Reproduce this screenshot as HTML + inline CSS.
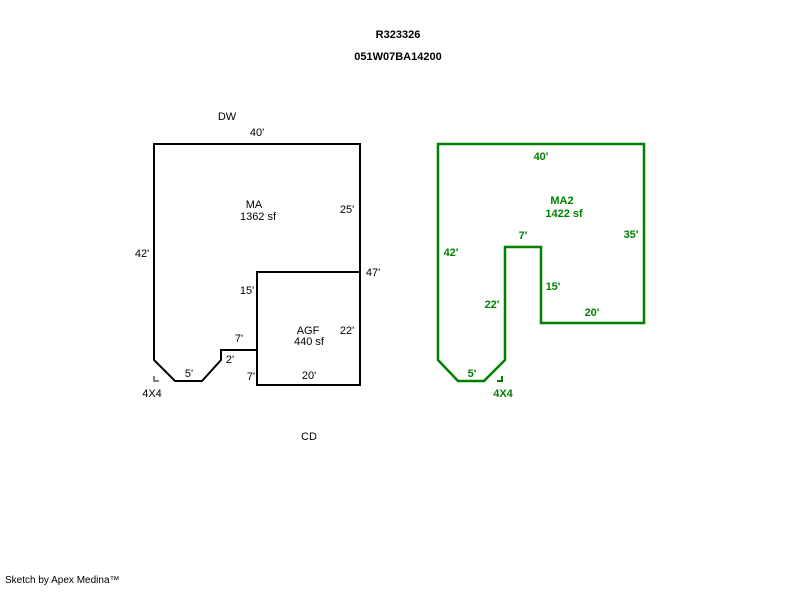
<!DOCTYPE html>
<html><head><style>
body{margin:0;background:#fff;width:800px;height:587px;overflow:hidden}
svg text{font-family:"Liberation Sans",Arial,sans-serif;font-size:11px}
</style></head><body>
<svg width="800" height="587" xmlns="http://www.w3.org/2000/svg">
<text x="398" y="38" text-anchor="middle" font-weight="bold">R323326</text>
<text x="398" y="60" text-anchor="middle" font-weight="bold">051W07BA14200</text>
<g fill="none" stroke="#000" stroke-width="2">
<polygon points="154,144 360,144 360,272 257,272 257,350 221,350 221,360 202,381 175,381 154,360"/>
<rect x="257" y="272" width="103" height="113"/>
</g>
<path d="M154,376 V381 H159" stroke="#555" stroke-width="1.5" fill="none"/>
<g fill="#000">
<text x="227" y="120" text-anchor="middle">DW</text>
<text x="257" y="136" text-anchor="middle">40'</text>
<text x="254" y="208" text-anchor="middle">MA</text>
<text x="258" y="220" text-anchor="middle">1362 sf</text>
<text x="347" y="213" text-anchor="middle">25'</text>
<text x="142" y="257" text-anchor="middle">42'</text>
<text x="373" y="276" text-anchor="middle">47'</text>
<text x="247" y="294" text-anchor="middle">15'</text>
<text x="308" y="334" text-anchor="middle">AGF</text>
<text x="309" y="345" text-anchor="middle">440 sf</text>
<text x="347" y="334" text-anchor="middle">22'</text>
<text x="239" y="342" text-anchor="middle">7'</text>
<text x="230" y="363" text-anchor="middle">2'</text>
<text x="189" y="377" text-anchor="middle">5'</text>
<text x="251" y="380" text-anchor="middle">7'</text>
<text x="309" y="379" text-anchor="middle">20'</text>
<text x="152" y="397" text-anchor="middle">4X4</text>
<text x="309" y="440" text-anchor="middle">CD</text>
</g>
<polygon points="438,144 644,144 644,323 541,323 541,247 505,247 505,360 484,381 458,381 438,360" fill="none" stroke="#008000" stroke-width="2.5"/>
<path d="M502,376 V381 H497" stroke="#008000" stroke-width="2" fill="none"/>
<g fill="#008000" font-weight="bold">
<text x="541" y="160" text-anchor="middle" font-weight="bold">40'</text>
<text x="562" y="204" text-anchor="middle" font-weight="bold">MA2</text>
<text x="564" y="217" text-anchor="middle" font-weight="bold">1422 sf</text>
<text x="631" y="238" text-anchor="middle" font-weight="bold">35'</text>
<text x="523" y="239" text-anchor="middle" font-weight="bold">7'</text>
<text x="451" y="256" text-anchor="middle" font-weight="bold">42'</text>
<text x="553" y="290" text-anchor="middle" font-weight="bold">15'</text>
<text x="492" y="308" text-anchor="middle" font-weight="bold">22'</text>
<text x="592" y="316" text-anchor="middle" font-weight="bold">20'</text>
<text x="472" y="377" text-anchor="middle" font-weight="bold">5'</text>
<text x="503" y="397" text-anchor="middle" font-weight="bold">4X4</text>
</g>
<text x="5" y="583" style="font-size:10px">Sketch by Apex Medina™</text>
</svg>
</body></html>
